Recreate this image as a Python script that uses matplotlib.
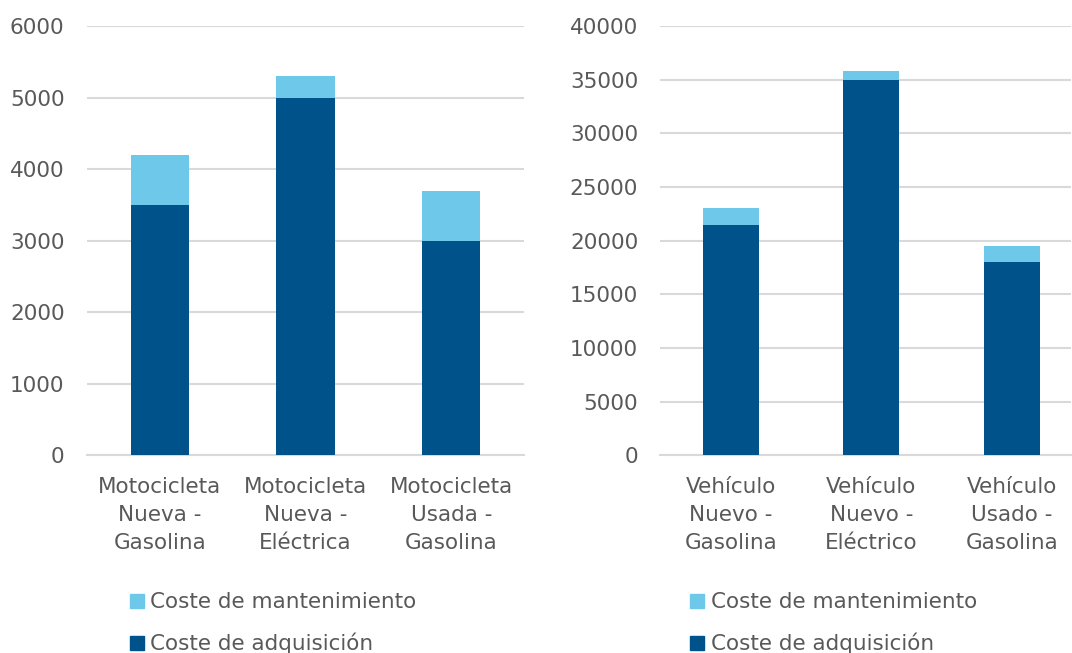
import matplotlib
matplotlib.use("Agg")
import matplotlib.pyplot as plt
from matplotlib.patches import Patch

plt.rcParams["font.family"] = ["DejaVu Sans"]

# 数据
moto_labels = ["Motocicleta\nNueva -\nGasolina", "Motocicleta\nNueva -\nEléctrica", "Motocicleta\nUsada -\nGasolina"]
moto_adq = [3500, 5000, 3000]
moto_mant = [700, 300, 700]

veh_labels = ["Vehículo\nNuevo -\nGasolina", "Vehículo\nNuevo -\nEléctrico", "Vehículo\nUsado -\nGasolina"]
veh_adq = [21500, 35000, 18000]
veh_mant = [1500, 800, 1500]

series_names = ["Coste de mantenimiento", "Coste de adquisición"]

DARK = "#00538A"
LIGHT = "#6EC8EA"
GRID = "#D9D9D9"
TEXT = "#595959"
FS = 15.5

fig = plt.figure(figsize=(10.72, 6.53), dpi=100)
ax1 = fig.add_axes([0.081, 0.303, 0.408, 0.657])
ax2 = fig.add_axes([0.616, 0.303, 0.383, 0.657])


def draw(ax, labels, adq, mant, ymax, step, xmax):
    x = range(len(labels))
    ax.bar(x, adq, width=0.4, color=DARK, zorder=3)
    ax.bar(x, mant, width=0.4, bottom=adq, color=LIGHT, zorder=3)
    ax.set_xlim(-0.5, xmax)
    ax.set_ylim(0, ymax)
    ax.set_yticks(range(0, ymax + 1, step))
    ax.set_xticks(list(x))
    ax.set_xticklabels(labels, linespacing=1.5)
    ax.yaxis.grid(True, color=GRID, linewidth=1.5, zorder=0)
    for s in ["top", "right", "left"]:
        ax.spines[s].set_visible(False)
    ax.spines["bottom"].set_color(GRID)
    ax.spines["bottom"].set_linewidth(1.5)
    ax.tick_params(axis="both", length=0, labelsize=FS, colors=TEXT)
    ax.tick_params(axis="y", pad=16)
    ax.tick_params(axis="x", pad=16)


draw(ax1, moto_labels, moto_adq, moto_mant, 6000, 1000, 2.5)
draw(ax2, veh_labels, veh_adq, veh_mant, 40000, 5000, 2.42)

handles = [Patch(color=LIGHT), Patch(color=DARK)]
for xpos in [0.113, 0.636]:
    fig.legend(handles, series_names, loc="upper left", bbox_to_anchor=(xpos, 0.106),
               frameon=False, fontsize=FS, labelcolor=TEXT, handlelength=0.65,
               handleheight=0.65, handletextpad=0.3, labelspacing=0.95, borderaxespad=0)

fig.savefig("out.png", dpi=100)
